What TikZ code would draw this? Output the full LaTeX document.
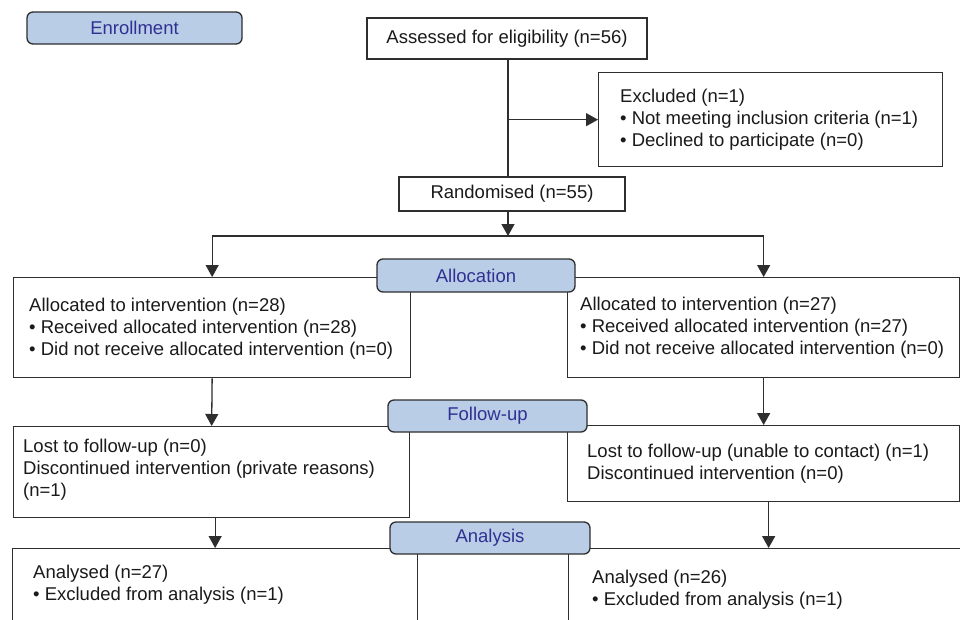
\documentclass[tikz,border=0pt]{standalone}
\usepackage{fontspec}
\setmainfont{Liberation Sans}
\usetikzlibrary{arrows.meta}
\definecolor{linec}{HTML}{2E2E2E}
\definecolor{labfill}{HTML}{BACDE6}
\definecolor{labtext}{HTML}{2E3192}
\definecolor{txt}{HTML}{1A1A1A}
\begin{document}
\begin{tikzpicture}[x=1pt,y=-1pt,
  every node/.style={font=\fontsize{18.5}{22}\selectfont, text=txt},
  box/.style={draw=linec, line width=1.3pt, rectangle, inner sep=0pt, anchor=north west},
  txtn/.style={inner sep=0pt, align=left, anchor=west},
  cbox/.style={draw=linec, line width=1.3pt, rectangle, inner sep=0pt, align=center},
  lab/.style={draw=linec, line width=1.3pt, fill=labfill, rounded corners=6pt, inner sep=0pt, text=labtext},
  conn/.style={draw=linec, line width=1.3pt},
  arr/.style={conn, -{Triangle[width=13pt,length=12pt]}}]
\useasboundingbox (0,0) rectangle (960,619);
\clip (0,0) rectangle (960,619);
\fill[white] (0,0) rectangle (960,619);

% top boxes
\node[cbox, minimum width=280pt, minimum height=41pt] (assessed) at (507,38.5) {Assessed for eligibility (n=56)};
\node[box, minimum width=344pt, minimum height=94pt] (excluded) at (598,72) {};
\node[txtn] (excludedT) at ([xshift=22pt]excluded.west)
  {Excluded (n=1)\\ • Not meeting inclusion criteria (n=1)\\ • Declined to participate (n=0)};
\node[cbox, minimum width=226pt, minimum height=34pt] (random) at (512,194) {Randomised (n=55)};

% allocation boxes
\node[box, minimum width=397pt, minimum height=100pt] (allocL) at (13,277) {};
\node[txtn] (allocLT) at ([xshift=16pt,yshift=-1pt]allocL.west)
  {Allocated to intervention (n=28)\\ • Received allocated intervention (n=28)\\ • Did not receive allocated intervention (n=0)};
\node[box, minimum width=392pt, minimum height=100pt] (allocR) at (567,277) {};
\node[txtn] (allocRT) at ([xshift=13pt]allocR.west)
  {Allocated to intervention (n=27)\\ • Received allocated intervention (n=27)\\ • Did not receive allocated intervention (n=0)};

% follow-up boxes
\node[box, minimum width=396pt, minimum height=91pt] (fuL) at (13,426) {};
\node[txtn] (fuLT) at ([xshift=10pt,yshift=2pt]fuL.west)
  {Lost to follow-up (n=0)\\ Discontinued intervention (private reasons)\\ (n=1)};
\node[box, minimum width=392pt, minimum height=76pt] (fuR) at (567,425) {};
\node[txtn] (fuRT) at ([xshift=20pt]fuR.west)
  {Lost to follow-up (unable to contact) (n=1)\\ Discontinued intervention (n=0)};

% analysis boxes (cut off at bottom)
\node[box, minimum width=405pt, minimum height=72pt] (anL) at (12,548) {};
\node[txtn] (anLT) at ([xshift=21pt]anL.west)
  {Analysed (n=27)\\ • Excluded from analysis (n=1)};
\node[box, minimum width=400pt, minimum height=82pt] (anR) at (568,548) {};
\node[txtn] (anRT) at ([xshift=24pt]anR.west)
  {Analysed (n=26)\\ • Excluded from analysis (n=1)};

% stage labels
\node[lab, minimum width=215pt, minimum height=32pt] (enroll) at (134.5,28) {Enrollment};
\node[lab, minimum width=198pt, minimum height=33pt] (allocation) at (476,275.5) {Allocation};
\node[lab, minimum width=199pt, minimum height=32pt] (followup) at (487.5,416) {Follow-up};
\node[lab, minimum width=200pt, minimum height=32pt] (analysis) at (490,538) {Analysis};

% connectors
\coordinate (split) at (508,236);
\draw[conn] (assessed.south -| split) -- (random.north -| split);
\draw[arr] (excluded.west -| split) -- (excluded.west);
\draw[arr] (random.south -| split) -- (split);
\draw[arr] (split) -| (allocL.north);
\draw[arr] (split) -| (allocR.north);
\draw[arr] (allocL.south) -- (fuL.north);
\draw[arr] (allocR.south) -- (fuR.north);
\draw[arr] (anL.north |- fuL.south) -- (anL.north);
\draw[arr] (anR.north |- fuR.south) -- (anR.north);
\end{tikzpicture}
\end{document}
